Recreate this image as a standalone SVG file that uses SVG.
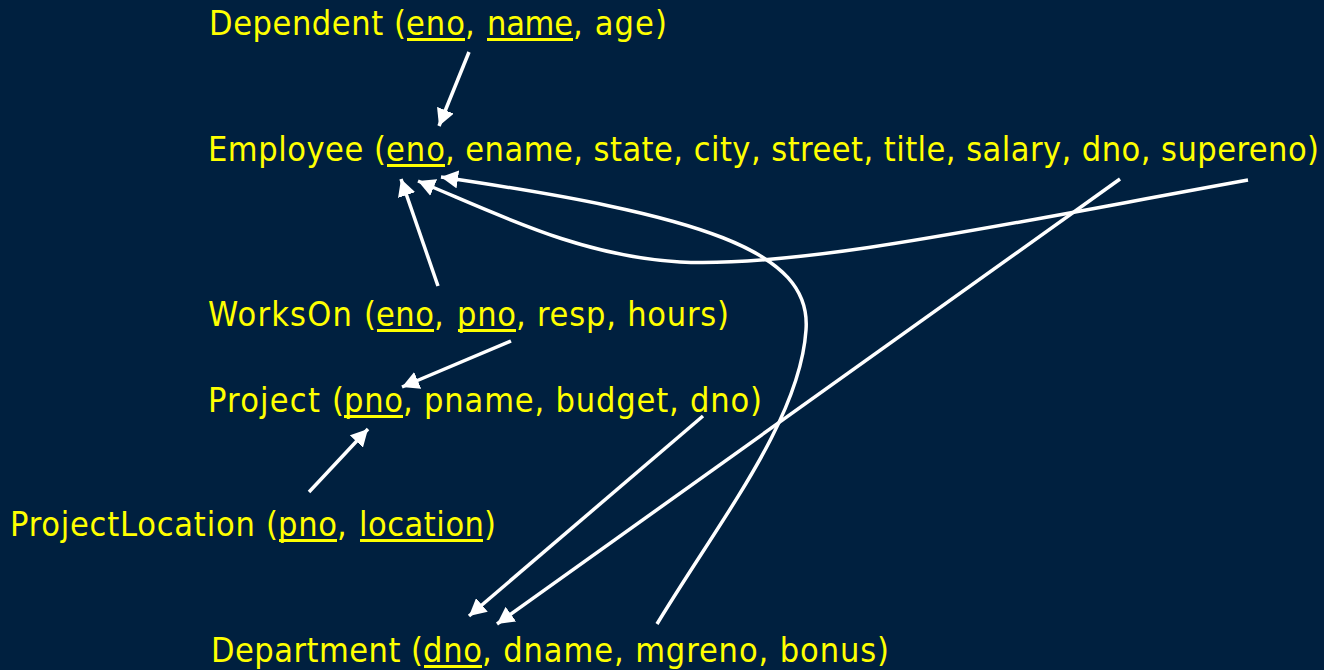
<svg xmlns="http://www.w3.org/2000/svg" width="1324" height="670" viewBox="0 0 1324 670">
  <style>
    .rel { font-family: "DejaVu Sans Condensed", "DejaVu Sans", "Liberation Sans", sans-serif; font-stretch: condensed; font-size: 34px; fill: #ffff00; }
    .key { stroke: #ffff00; stroke-width: 3; }
    .fk { fill: none; stroke: #ffffff; stroke-width: 3.5; marker-end: url(#head); }
  </style>
  <defs>
    <marker id="head" markerUnits="userSpaceOnUse" viewBox="0 0 17 18" markerWidth="17" markerHeight="18" refX="17" refY="9" orient="auto">
      <path d="M0,0 L17,9 L0,18 Z" fill="#ffffff"/>
    </marker>
  </defs>
  <rect width="1324" height="670" fill="#00203f"/>

  <!-- relation schemas -->
  <g id="dependent">
    <text class="rel" y="35" lengthAdjust="spacingAndGlyphs"><tspan x="209" textLength="197">Dependent (</tspan><tspan x="406" textLength="59">eno</tspan><tspan x="465">,</tspan><tspan x="487" textLength="86">name</tspan><tspan x="573" textLength="94">, age)</tspan></text>
    <line class="key" x1="407" y1="39.5" x2="465" y2="39.5"/>
    <line class="key" x1="487" y1="39.5" x2="573" y2="39.5"/>
  </g>
  <g id="employee">
    <text class="rel" y="161" lengthAdjust="spacingAndGlyphs"><tspan x="208" textLength="178">Employee (</tspan><tspan x="386" textLength="59">eno</tspan><tspan x="445" textLength="874">, ename, state, city, street, title, salary, dno, supereno)</tspan></text>
    <line class="key" x1="387" y1="165.5" x2="445" y2="165.5"/>
  </g>
  <g id="workson">
    <text class="rel" y="326" lengthAdjust="spacingAndGlyphs"><tspan x="208" textLength="168">WorksOn (</tspan><tspan x="376" textLength="58">eno</tspan><tspan x="434">,</tspan><tspan x="457" textLength="59">pno</tspan><tspan x="516" textLength="213">, resp, hours)</tspan></text>
    <line class="key" x1="377" y1="330.5" x2="434" y2="330.5"/>
    <line class="key" x1="458" y1="330.5" x2="516" y2="330.5"/>
  </g>
  <g id="project">
    <text class="rel" y="412" lengthAdjust="spacingAndGlyphs"><tspan x="208" textLength="136">Project (</tspan><tspan x="344" textLength="59">pno</tspan><tspan x="403" textLength="359">, pname, budget, dno)</tspan></text>
    <line class="key" x1="344" y1="416.5" x2="403" y2="416.5"/>
  </g>
  <g id="projectlocation">
    <text class="rel" y="536" lengthAdjust="spacingAndGlyphs"><tspan x="10" textLength="268">ProjectLocation (</tspan><tspan x="278" textLength="59">pno</tspan><tspan x="337">,</tspan><tspan x="359" textLength="125">location</tspan><tspan x="484">)</tspan></text>
    <line class="key" x1="279" y1="540.5" x2="337" y2="540.5"/>
    <line class="key" x1="360" y1="540.5" x2="483" y2="540.5"/>
  </g>
  <g id="department">
    <text class="rel" y="662" lengthAdjust="spacingAndGlyphs"><tspan x="211" textLength="212">Department (</tspan><tspan x="423" textLength="59">dno</tspan><tspan x="482" textLength="407">, dname, mgreno, bonus)</tspan></text>
    <line class="key" x1="424" y1="666.5" x2="482" y2="666.5"/>
  </g>

  <!-- foreign key references -->
  <g id="connectors">
    <path class="fk" d="M469,52 L439,126"/>
    <path class="fk" d="M438,286 L401,179"/>
    <path class="fk" d="M511,341 L402,387"/>
    <path class="fk" d="M309,492 L368,429"/>
    <path class="fk" d="M703,416 L469,616"/>
    <path class="fk" d="M1120,179 L497,624"/>
    <path class="fk" d="M1248,180 C1000,225 800,268 680,262 C580,256 500,215 418,181"/>
    <path class="fk" d="M657,624 C720,520 800,420 806,330 C812,250 700,215 441,177"/>
  </g>
</svg>
